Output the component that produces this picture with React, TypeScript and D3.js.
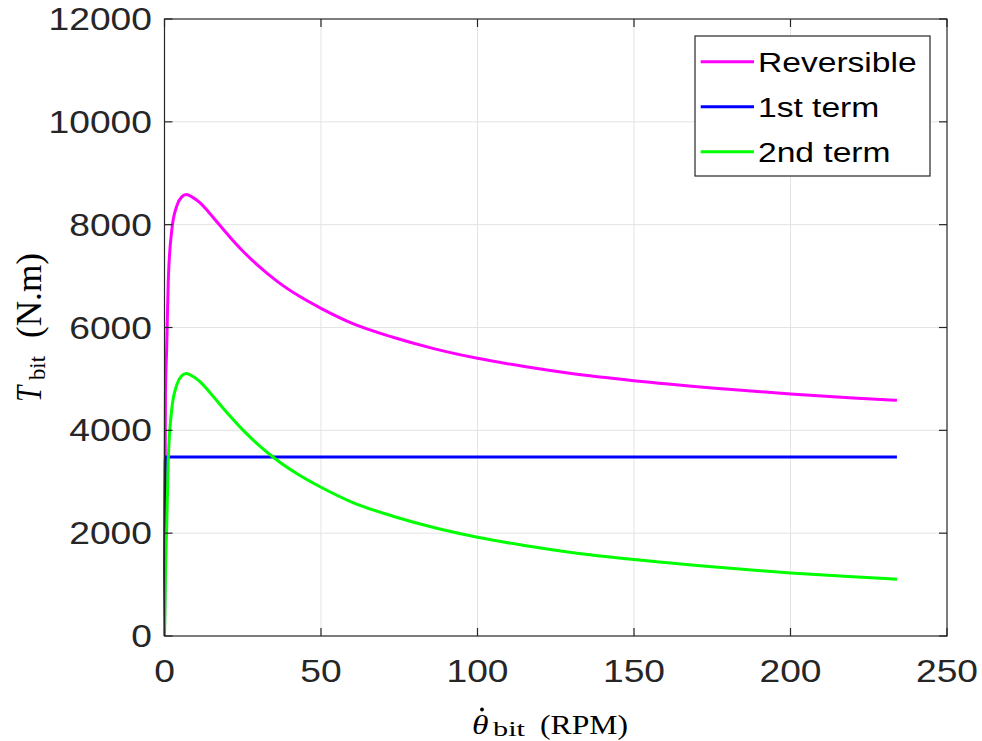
import React from "react";
import * as d3 from "d3";

// Bit speed grid (RPM) shared by the three torque series
const rpm = [0, 0.3, 0.7, 1.2, 2.3, 3.9, 5.5, 6.9, 9, 11.3, 14, 17, 21, 25, 30, 36, 43, 50, 60, 73, 86, 100, 115, 130, 150, 175, 200, 220, 234];

// Torque on bit (N.m)
const reversible = [0, 4700, 5606, 6900, 7880, 8360, 8540, 8585, 8531, 8428, 8252, 8036, 7752, 7488, 7198, 6898, 6611, 6373, 6080, 5810, 5590, 5401, 5240, 5105, 4966, 4825, 4706, 4630, 4585];
const firstTerm = [0, 3480, 3480, 3480, 3480, 3480, 3480, 3480, 3480, 3480, 3480, 3480, 3480, 3480, 3480, 3480, 3480, 3480, 3480, 3480, 3480, 3480, 3480, 3480, 3480, 3480, 3480, 3480, 3480];
const secondTerm = [0, 1220, 2126, 3420, 4400, 4880, 5060, 5105, 5051, 4948, 4772, 4556, 4272, 4008, 3718, 3418, 3131, 2893, 2600, 2330, 2110, 1921, 1760, 1625, 1486, 1345, 1226, 1150, 1105];

const seriesNames = ["Reversible", "1st term", "2nd term"];
const seriesColors = ["#ff00ff", "#0000ff", "#00ff00"];
const seriesValues = [reversible, firstTerm, secondTerm];

const xTicks = [0, 50, 100, 150, 200, 250];
const yTicks = [0, 2000, 4000, 6000, 8000, 10000, 12000];

const W = 982;
const H = 741;
const left = 164.5;
const right = 947;
const top = 19;
const bottom = 636;
const SX = 1.2; // horizontal text stretch
const axisColor = "#262626";
const sans = "'Liberation Sans', Arial, Helvetica, sans-serif";
const serif = "'Liberation Serif', 'Times New Roman', serif";

export default function App() {
  const x = d3.scaleLinear().domain([0, 250]).range([left, right]);
  const y = d3.scaleLinear().domain([0, 12000]).range([bottom, top]);
  const line = d3
    .line<number>()
    .x((_, i) => x(rpm[i]))
    .y((d) => y(d))
    .curve(d3.curveMonotoneX);

  const tickLen = 8;
  const tickFs = 31;
  const legFs = 28;

  // Legend box geometry
  const lg = { x0: 695, y0: 36, x1: 930, y1: 176 };
  const rows = [61.7, 106.7, 151.7];

  return (
    <div style={{ position: "absolute", left: 0, top: 0 }}>
      <svg width={W} height={H} style={{ display: "block", background: "#fff" }}>
        <rect x={0} y={0} width={W} height={H} fill="#fff" />
        {/* grid */}
        <g stroke="#e3e3e3" strokeWidth={1}>
          {xTicks.slice(1, -1).map((t) => (
            <line key={"gx" + t} x1={x(t)} x2={x(t)} y1={top} y2={bottom} />
          ))}
          {yTicks.slice(1, -1).map((t) => (
            <line key={"gy" + t} x1={left} x2={right} y1={y(t)} y2={y(t)} />
          ))}
        </g>

        {/* series */}
        {seriesValues.map((vals, i) => (
          <path
            key={seriesNames[i]}
            d={line(vals) || ""}
            fill="none"
            stroke={seriesColors[i]}
            strokeWidth={3}
            strokeLinejoin="round"
          />
        ))}

        {/* box and ticks */}
        <g stroke={axisColor} strokeWidth={1.2} fill="none">
          <rect x={left} y={top} width={right - left} height={bottom - top} />
          {xTicks.map((t) => (
            <g key={"tx" + t}>
              <line x1={x(t)} x2={x(t)} y1={bottom} y2={bottom - tickLen} />
              <line x1={x(t)} x2={x(t)} y1={top} y2={top + tickLen} />
            </g>
          ))}
          {yTicks.map((t) => (
            <g key={"ty" + t}>
              <line x1={left} x2={left + tickLen} y1={y(t)} y2={y(t)} />
              <line x1={right} x2={right - tickLen} y1={y(t)} y2={y(t)} />
            </g>
          ))}
        </g>

        {/* tick labels */}
        <g fill={axisColor} fontFamily={sans} fontSize={tickFs}>
          {xTicks.map((t) => (
            <text
              key={"lx" + t}
              transform={`translate(${x(t)},${682}) scale(${SX},1)`}
              textAnchor="middle"
            >
              {t}
            </text>
          ))}
          {yTicks.map((t) => (
            <text
              key={"ly" + t}
              transform={`translate(${152},${y(t) + tickFs * 0.355}) scale(${SX},1)`}
              textAnchor="end"
            >
              {t}
            </text>
          ))}
        </g>

        {/* x axis label: theta-dot subscript bit (RPM) */}
        <g fontFamily={serif} fill="#000">
          <text transform={`translate(472,734) scale(${SX},1)`} fontSize={28} fontStyle="italic">
            θ
          </text>
          <circle cx={482} cy={709.5} r={1.9} fill="#000" />
          <text x={493} y={735.5} fontSize={20} textLength={32} lengthAdjust="spacingAndGlyphs">
            bit
          </text>
          <text x={540} y={734} fontSize={28} textLength={88} lengthAdjust="spacingAndGlyphs">
            (RPM)
          </text>
        </g>

        {/* y axis label: T subscript bit (N.m) */}
        <g transform={`translate(41,0) scale(${SX},1) rotate(-90)`} fontFamily={serif} fill="#000">
          <text x={-402} y={0} fontSize={29} fontStyle="italic">
            T
          </text>
          <text x={-380} y={3} fontSize={20} textLength={24} lengthAdjust="spacingAndGlyphs">
            bit
          </text>
          <text x={-338} y={0} fontSize={29} textLength={85} lengthAdjust="spacingAndGlyphs">
            (N.m)
          </text>
        </g>

        {/* legend */}
        <rect
          x={lg.x0}
          y={lg.y0}
          width={lg.x1 - lg.x0}
          height={lg.y1 - lg.y0}
          fill="#fff"
          stroke={axisColor}
          strokeWidth={1.2}
        />
        {seriesNames.map((n, i) => (
          <g key={"lg" + n}>
            <line x1={700.7} x2={754} y1={rows[i]} y2={rows[i]} stroke={seriesColors[i]} strokeWidth={3} />
            <text
              transform={`translate(${758},${rows[i] + legFs * 0.36}) scale(${SX},1)`}
              fontFamily={sans}
              fontSize={legFs}
              fill="#000"
            >
              {n}
            </text>
          </g>
        ))}
      </svg>
    </div>
  );
}
